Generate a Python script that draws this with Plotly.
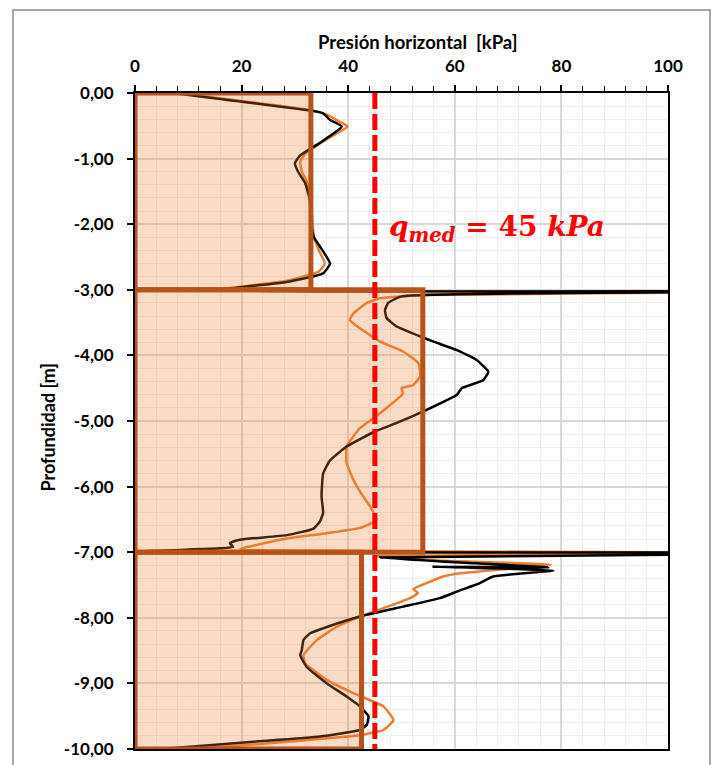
import plotly.graph_objects as go

# ---------------- data ----------------
black_x = [7, 33.8, 35.3, 36.6, 38.8, 34.7, 31, 30, 30.6, 31.9, 32.8, 33.0, 33.5, 34.7, 36.6, 35.3, 28.5, 16.5,
           160, 50, 47.5, 46.9, 47.2, 49.1, 53.5, 56, 60.4, 64.1, 66.3, 65.3, 61.3, 60.4, 54.7, 49.1, 45, 39.7,
           36.6, 35.3, 35, 35.3, 34.7, 33.5, 28.5, 19.7, 17.8, 18.4, 16, 1,
           160, 46, 64, 77.5, 56, 78.5, 67.2, 64.7, 60.4, 57.2, 50.3, 42.2, 36, 32.8, 31.6, 31.3, 31, 32.2, 36,
           39.7, 42.2, 43.8, 43.5, 42.2, 34.7, 22.2, 6.6, 5]
black_y = [0, -0.28, -0.31, -0.41, -0.51, -0.76, -0.95, -1.07, -1.2, -1.37, -1.63, -1.94, -2.19, -2.34, -2.6, -2.75, -2.88, -3.0,
           -3.02, -3.1, -3.2, -3.31, -3.43, -3.56, -3.71, -3.79, -3.92, -4.07, -4.25, -4.38, -4.5, -4.6, -4.83, -5.03, -5.16, -5.39,
           -5.6, -5.8, -6.15, -6.4, -6.53, -6.64, -6.74, -6.81, -6.86, -6.92, -6.94, -6.99,
           -7.01, -7.08, -7.17, -7.23, -7.22, -7.28, -7.37, -7.47, -7.6, -7.7, -7.83, -7.98, -8.14, -8.24, -8.34, -8.49, -8.57, -8.75, -9.0,
           -9.2, -9.35, -9.5, -9.63, -9.71, -9.81, -9.89, -9.99, -10]

orange_x = [8, 33.5, 36, 38, 39.9, 36, 32, 31, 31.3, 32.5, 33, 33.3, 33.6, 34.5, 35.6, 34.5, 28, 15.3,
            120, 54, 46, 43.5, 41, 40.3, 43.5, 46, 50.3, 53.2, 53.5, 52.2, 50, 50.3, 46, 42.2, 39.7, 39.7, 41,
            42.8, 44.1, 45.3, 42.2, 36, 28.5, 22.2, 19.7,
            120, 45, 58, 78, 69, 61, 57.8, 54.7, 52.2, 53.1, 51.6, 48.4, 42.2, 37.8, 34.1, 31.6, 31.9, 36, 41,
            46.6, 48.5, 46.6, 42.2, 28.5, 12.8, 10]
orange_y = [0, -0.27, -0.33, -0.42, -0.51, -0.7, -0.92, -1.05, -1.2, -1.4, -1.7, -2.0, -2.2, -2.4, -2.6, -2.72, -2.87, -3.0,
            -3.03, -3.08, -3.13, -3.2, -3.36, -3.46, -3.66, -3.79, -3.94, -4.12, -4.32, -4.45, -4.5, -4.58, -4.88, -5.11, -5.39, -5.64, -5.9,
            -6.15, -6.3, -6.51, -6.63, -6.71, -6.79, -6.9, -6.95,
            -7.01, -7.06, -7.13, -7.19, -7.26, -7.32, -7.37, -7.47, -7.56, -7.62, -7.7, -7.8, -7.98, -8.14, -8.34, -8.57, -8.69, -8.95, -9.15,
            -9.35, -9.56, -9.71, -9.79, -9.89, -9.99, -10]

# layer boxes: (top depth, bottom depth, mean pressure)
layer_top = [0, -3, -7]
layer_bottom = [-3, -7, -10]
layer_q = [33, 54, 42.5]

q_med = 45

x_ticks = [0, 20, 40, 60, 80, 100]
y_ticks = [0, -1, -2, -3, -4, -5, -6, -7, -8, -9, -10]
y_labels = ["0,00", "-1,00", "-2,00", "-3,00", "-4,00", "-5,00", "-6,00", "-7,00", "-8,00", "-9,00", "-10,00"]

# ---------------- figure ----------------
FONT = "Lato"
fig = go.Figure()

fig.add_trace(go.Scatter(x=orange_x, y=orange_y, mode="lines",
                         line=dict(color="#ED7D31", width=2.5, shape="spline", smoothing=0.4),
                         showlegend=False, hoverinfo="skip"))
fig.add_trace(go.Scatter(x=black_x, y=black_y, mode="lines",
                         line=dict(color="#000000", width=2.5, shape="spline", smoothing=0.4),
                         showlegend=False, hoverinfo="skip"))

for t, b, q in zip(layer_top, layer_bottom, layer_q):
    fig.add_shape(type="rect", xref="x", yref="y", x0=0, x1=q, y0=b, y1=t,
                  line=dict(color="#B5531A", width=5),
                  fillcolor="rgba(237,125,49,0.28)", layer="above")

fig.add_shape(type="line", xref="x", yref="y", x0=q_med, x1=q_med, y0=0, y1=-10,
              line=dict(color="#FF0000", width=5, dash="16px,5px"), layer="above")

# outer figure border
fig.add_shape(type="rect", xref="paper", yref="paper", x0=-0.2289, x1=1.0788, y0=-0.04, y1=1.1265,
              line=dict(color="#8C8C8C", width=1.5), fillcolor="rgba(0,0,0,0)", layer="below")

fig.add_annotation(x=q_med + 2.2, y=-2.06, xref="x", yref="y", xanchor="left", yanchor="middle",
                   showarrow=False,
                   text="<b><i>q</i><sub><i>med</i></sub> = 45 <i>kPa</i></b>",
                   font=dict(family="DejaVu Serif", size=28, color="#FF0000"))

fig.add_annotation(x=0.531, y=1.0, xref="paper", yref="paper", yshift=51, xanchor="center", yanchor="middle",
                   showarrow=False, text="<b>Presión horizontal  [kPa]</b>",
                   font=dict(family=FONT, size=18.5, color="#000000"))
fig.add_annotation(x=0, y=0.49, xref="paper", yref="paper", xshift=-87, xanchor="center", yanchor="middle",
                   textangle=-90, showarrow=False, text="<b>Profundidad [m]</b>",
                   font=dict(family=FONT, size=18, color="#000000"))

fig.update_xaxes(side="top", range=[0, 100], tickvals=x_ticks, ticktext=[f"<b>{v}</b>" for v in x_ticks],
                 ticks="outside", ticklen=6, tickwidth=1.5, tickcolor="#000000",
                 ticklabelstandoff=6, automargin=False,
                 showline=True, linecolor="#000000", linewidth=2, mirror=True,
                 showgrid=True, gridcolor="#D9D9D9", gridwidth=1.5, zeroline=False,
                 minor=dict(dtick=4, showgrid=True, gridcolor="#EFEFEF", gridwidth=1,
                            ticks="outside", ticklen=5, tickcolor="#000000", tickwidth=1.2),
                 tickfont=dict(family=FONT, size=17, color="#000000"))
fig.update_yaxes(range=[-10, 0], tickvals=y_ticks, ticktext=[f"<b>{v}</b>" for v in y_labels],
                 ticks="outside", ticklen=6, tickwidth=1.5, tickcolor="#000000",
                 ticklabelstandoff=10, automargin=False,
                 showline=True, linecolor="#000000", linewidth=2, mirror=True,
                 showgrid=True, gridcolor="#D9D9D9", gridwidth=1.5, zeroline=False,
                 minor=dict(dtick=0.2, showgrid=True, gridcolor="#EFEFEF", gridwidth=1),
                 tickfont=dict(family=FONT, size=17, color="#000000"))

fig.update_layout(width=712, height=765, margin=dict(l=135, r=44, t=93, b=16),
                  paper_bgcolor="#FFFFFF", plot_bgcolor="#FFFFFF", showlegend=False)

fig.write_html("out.html")
